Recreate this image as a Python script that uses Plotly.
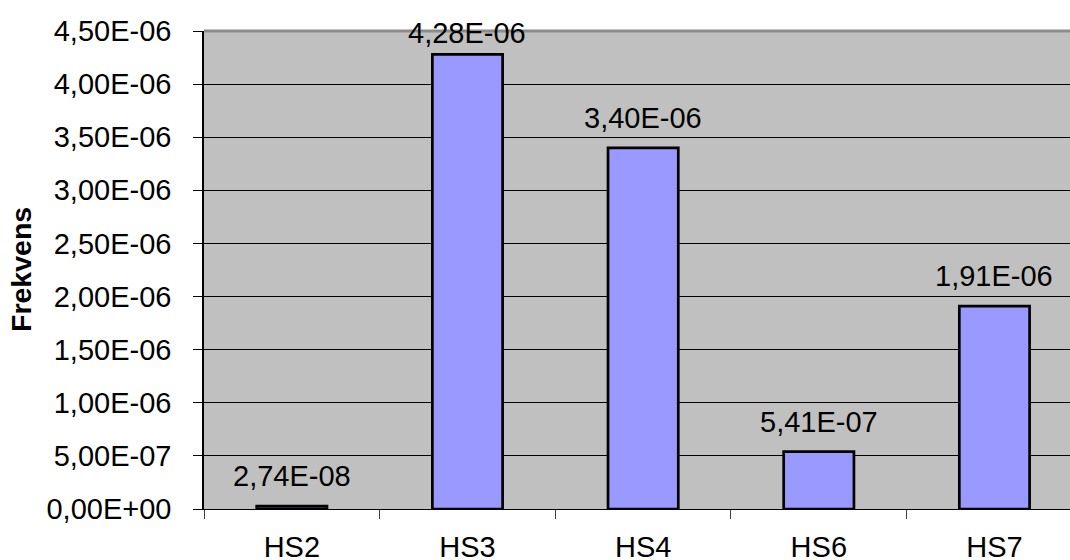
import plotly.graph_objects as go

# Frequency per hazard scenario
categories = ["HS2", "HS3", "HS4", "HS6", "HS7"]
frekvens = [2.74e-8, 4.28e-6, 3.40e-6, 5.41e-7, 1.91e-6]
y_ticks = [0.0, 0.5e-6, 1.0e-6, 1.5e-6, 2.0e-6, 2.5e-6, 3.0e-6, 3.5e-6, 4.0e-6, 4.5e-6]


def sci_comma(v):
    """Scientific notation with a decimal comma, e.g. 4,28E-06."""
    return f"{v:.2E}".replace(".", ",")


FONT = "Liberation Sans, Arial, sans-serif"
Y_MAX = 4.5e-6
LABEL_OFFSET = 0.28e-6
LABEL_CAP = 4.48e-6

fig = go.Figure()
fig.add_trace(go.Bar(
    x=categories,
    y=frekvens,
    marker=dict(color="#9999FF", line=dict(color="#000000", width=2.7)),
    showlegend=False,
    hoverinfo="skip",
))

# value labels above each bar
for cat, v in zip(categories, frekvens):
    fig.add_annotation(
        x=cat, y=min(v + LABEL_OFFSET, LABEL_CAP),
        xref="x", yref="y",
        text=sci_comma(v), showarrow=False,
        yanchor="middle", xanchor="center",
        font=dict(family=FONT, size=29, color="#000000"),
    )

# y-axis title
fig.add_annotation(
    x=-(204 - 21) / 866, y=0.5, xref="paper", yref="paper",
    text="<b>Frekvens</b>", textangle=-90, showarrow=False,
    xanchor="center", yanchor="middle",
    font=dict(family=FONT, size=28.5, color="#000000"),
)

# gray frame along the top of the plot area
fig.add_shape(
    type="line", xref="paper", yref="paper",
    x0=0, x1=1, y0=1, y1=1,
    line=dict(color="#8c8c8c", width=3),
)

fig.update_layout(
    width=1070, height=560,
    margin=dict(l=204, r=0, t=31, b=51, autoexpand=False),
    paper_bgcolor="#FFFFFF",
    plot_bgcolor="#C0C0C0",
    bargap=0.6,
    font=dict(family=FONT, size=29, color="#000000"),
    xaxis=dict(
        range=[-0.5, 4.43],
        automargin=False,
        showgrid=False,
        showline=True, linecolor="#000000", linewidth=1,
        ticks="outside", ticklen=9, tickcolor="#404040", tickwidth=1,
        tickson="boundaries",
        ticklabelstandoff=12,
        tickfont=dict(family=FONT, size=29, color="#000000"),
    ),
    yaxis=dict(
        range=[0, Y_MAX],
        automargin=False,
        tickvals=y_ticks,
        ticktext=[sci_comma(t) for t in y_ticks],
        showgrid=True, gridcolor="#000000", gridwidth=1,
        zeroline=False,
        showline=True, linecolor="#000000", linewidth=1.5,
        ticks="outside", ticklen=9, tickcolor="#000000", tickwidth=1,
        ticklabelstandoff=16,
        tickfont=dict(family=FONT, size=29, color="#000000"),
    ),
)

fig.write_html("out.html")
